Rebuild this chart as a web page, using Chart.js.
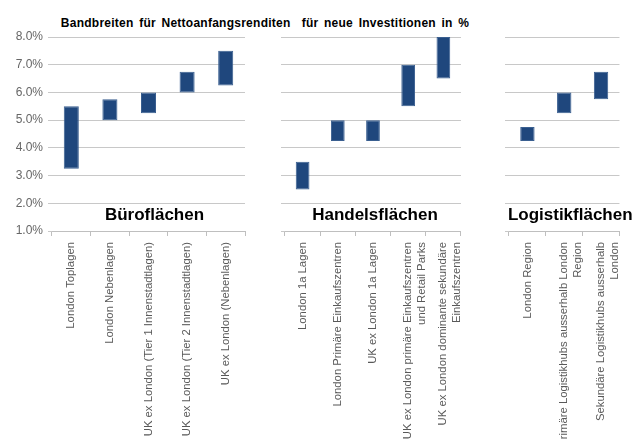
<!DOCTYPE html>
<html>
<head>
<meta charset="utf-8">
<script src="https://cdn.jsdelivr.net/npm/chart.js@4"></script>
<style>
  body { margin: 0; background: #fff; width: 636px; height: 439px; overflow: hidden; position: relative; }
  .panel { position: absolute; top: 0; height: 439px; }
  #title { position: absolute; top: 16px; left: 0; width: 530px; text-align: center;
    font: bold 12px "Liberation Sans", Arial, sans-serif; color: #000; word-spacing: 2px; letter-spacing: 0.25px; white-space: pre; }
</style>
</head>
<body>
<div id="title">Bandbreiten für Nettoanfangsrenditen  für neue Investitionen in %</div>
<div class="panel" style="left:0;width:252px"><canvas id="bueroChart"></canvas></div>
<div class="panel" style="left:280px;width:197px"><canvas id="handelChart"></canvas></div>
<div class="panel" style="left:504px;width:132px"><canvas id="logistikChart"></canvas></div>
<script>
// Kategorien je Segment
var bueroLabels = [
  "London Toplagen",
  "London Nebenlagen",
  "UK ex London (Tier 1 Innenstadtlagen)",
  "UK ex London (Tier 2 Innenstadtlagen)",
  "UK ex London (Nebenlagen)"
];
var handelLabels = [
  "London 1a Lagen",
  "London Primäre Einkaufszentren",
  "UK ex London 1a Lagen",
  ["UK ex London primäre Einkaufszentren", "und Retail Parks"],
  ["UK ex London dominante sekundäre", "Einkaufszentren"]
];
var logistikLabels = [
  "London Region",
  ["Primäre Logistikhubs ausserhalb London", "Region"],
  ["Sekundäre Logistikhubs ausserhalb", "London"]
];

// Bandbreiten (von, bis) in %
var bueroMin = [3.25, 5.0, 5.25, 6.0, 6.25];
var bueroMax = [5.5, 5.75, 6.0, 6.75, 7.5];
var handelMin = [2.5, 4.25, 4.25, 5.5, 6.5];
var handelMax = [3.5, 5.0, 5.0, 7.0, 8.0];
var logistikMin = [4.25, 5.25, 5.75];
var logistikMax = [4.75, 6.0, 6.75];

var yMin = 1, yMax = 8;

var fontFamily = '"Liberation Sans", Arial, sans-serif';

// Segmentname unten in der Zeichenfläche
var groupLabelPlugin = {
  id: "groupLabel",
  afterDraw: function (chart) {
    var text = chart.options.plugins.groupLabel.text;
    var area = chart.chartArea;
    var ctx = chart.ctx;
    ctx.save();
    ctx.font = "bold 17px " + fontFamily;
    ctx.fillStyle = "#000";
    ctx.textAlign = "center";
    ctx.textBaseline = "middle";
    ctx.fillText(text, (area.left + area.right) / 2 + chart.options.plugins.groupLabel.dx, 215);
    ctx.restore();
  }
};

function makeChart(id, labels, mins, maxs, groupName, opts) {
  var ranges = mins.map(function (v, i) { return [v, maxs[i]]; });
  var ctx = document.getElementById(id).getContext("2d");
  return new Chart(ctx, {
    type: "bar",
    data: {
      labels: labels,
      datasets: [
        {
          label: groupName,
          data: ranges,
          backgroundColor: "#1f477d",
          borderColor: "#3a5f90",
          borderWidth: 1,
          borderSkipped: false,
          barPercentage: 0.39,
          categoryPercentage: 1
        }
      ]
    },
    options: {
      responsive: true,
      maintainAspectRatio: false,
      animation: false,
      layout: { padding: { top: 37, right: opts.right, bottom: 0, left: 0 } },
      plugins: {
        legend: { display: false },
        tooltip: { enabled: false },
        groupLabel: { text: groupName, dx: opts.dx }
      },
      scales: {
        x: {
          grid: { drawOnChartArea: false, color: "#bfbfbf", tickLength: 5, offset: true },
          border: { display: true, color: "#bfbfbf" },
          ticks: {
            autoSkip: false,
            maxRotation: 90,
            minRotation: 90,
            padding: 6,
            color: "#595959",
            font: { family: fontFamily, size: 11.3 }
          },
          afterFit: function (scale) { scale.height = 208; }
        },
        y: {
          min: yMin,
          max: yMax,
          grid: { color: "#c8c8c8", tickLength: 4 },
          border: { display: false },
          ticks: {
            stepSize: 1,
            display: opts.yTicks,
            color: "#666",
            padding: 5,
            font: { family: fontFamily, size: 12 },
            callback: function (v) { return v.toFixed(1) + "%"; }
          },
          afterFit: function (scale) { scale.width = opts.yWidth; }
        }
      }
    },
    plugins: [groupLabelPlugin]
  });
}

makeChart("bueroChart", bueroLabels, bueroMin, bueroMax, "Büroflächen", { right: 7, yWidth: 52, yTicks: true, dx: 6 });
makeChart("handelChart", handelLabels, handelMin, handelMax, "Handelsflächen", { right: 5, yWidth: 5, yTicks: false, dx: 2 });
makeChart("logistikChart", logistikLabels, logistikMin, logistikMax, "Logistikflächen", { right: 11, yWidth: 5, yTicks: false, dx: 6 });
</script>
</body>
</html>
